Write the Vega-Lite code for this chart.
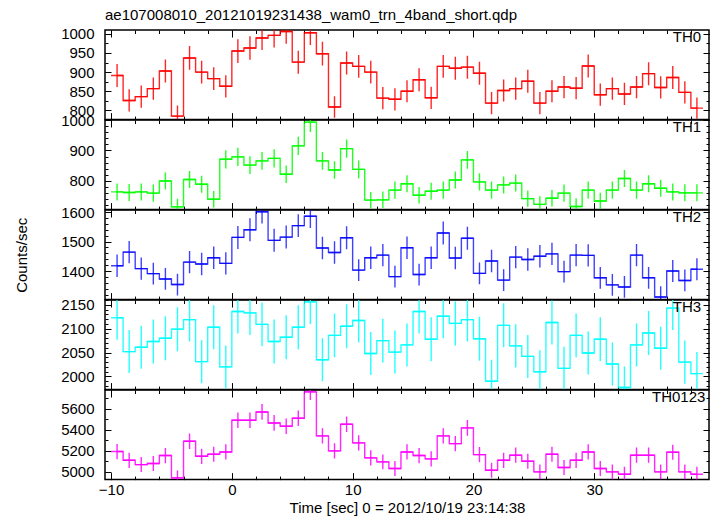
{
"$schema": "https://vega.github.io/schema/vega-lite/v6.json",
"padding": {"left": 13, "top": 7, "right": 0, "bottom": 0},
"spacing": 0,
"bounds": "flush",
"config": {
 "font": "Liberation Sans",
 "view": {"stroke": "black", "strokeWidth": 1.5},
 "axis": {"domain": false, "grid": false, "tickColor": "black", "labelColor": "black", "labelFont": "Liberation Sans", "labelFontSize": 15, "titleFont": "Liberation Sans", "titleFontSize": 15, "titleFontWeight": "normal", "titleColor": "black", "labelOverlap": false, "labelFlush": false, "tickWidth": 1, "format": "d"}
},
"datasets": {"lc": [
{"t":-9.5,"th0":891,"e0":30,"th1":764,"e1":28,"th2":1418,"e2":38,"th3":2123,"e3":46,"all":5193,"ea":72},
{"t":-8.5,"th0":826,"e0":29,"th1":762,"e1":28,"th2":1464,"e2":38,"th3":2052,"e3":45,"all":5110,"ea":72},
{"t":-7.5,"th0":836,"e0":29,"th1":764,"e1":28,"th2":1408,"e2":38,"th3":2061,"e3":45,"all":5069,"ea":71},
{"t":-6.5,"th0":857,"e0":29,"th1":760,"e1":28,"th2":1391,"e2":37,"th3":2073,"e3":46,"all":5079,"ea":71},
{"t":-5.5,"th0":903,"e0":30,"th1":800,"e1":28,"th2":1373,"e2":37,"th3":2080,"e3":46,"all":5155,"ea":72},
{"t":-4.5,"th0":785,"e0":28,"th1":715,"e1":27,"th2":1354,"e2":37,"th3":2099,"e3":46,"all":4943,"ea":70},
{"t":-3.5,"th0":937,"e0":31,"th1":805,"e1":28,"th2":1430,"e2":38,"th3":2119,"e3":46,"all":5291,"ea":73},
{"t":-2.5,"th0":900,"e0":30,"th1":789,"e1":28,"th2":1424,"e2":38,"th3":2031,"e3":45,"all":5148,"ea":72},
{"t":-1.5,"th0":883,"e0":30,"th1":740,"e1":27,"th2":1445,"e2":38,"th3":2103,"e3":46,"all":5167,"ea":72},
{"t":-0.5,"th0":863,"e0":29,"th1":871,"e1":30,"th2":1426,"e2":38,"th3":2020,"e3":45,"all":5189,"ea":72},
{"t":0.5,"th0":955,"e0":31,"th1":879,"e1":30,"th2":1514,"e2":39,"th3":2136,"e3":46,"all":5489,"ea":74},
{"t":1.5,"th0":963,"e0":31,"th1":852,"e1":29,"th2":1540,"e2":39,"th3":2133,"e3":46,"all":5489,"ea":74},
{"t":2.5,"th0":989,"e0":31,"th1":866,"e1":29,"th2":1601,"e2":40,"th3":2109,"e3":46,"all":5568,"ea":75},
{"t":3.5,"th0":996,"e0":32,"th1":874,"e1":30,"th2":1504,"e2":39,"th3":2073,"e3":46,"all":5464,"ea":74},
{"t":4.5,"th0":1006,"e0":32,"th1":822,"e1":29,"th2":1515,"e2":39,"th3":2082,"e3":46,"all":5433,"ea":74},
{"t":5.5,"th0":926,"e0":30,"th1":915,"e1":30,"th2":1554,"e2":39,"th3":2103,"e3":46,"all":5508,"ea":74},
{"t":6.5,"th0":1003,"e0":32,"th1":993,"e1":32,"th2":1586,"e2":40,"th3":2156,"e3":46,"all":5758,"ea":76},
{"t":7.5,"th0":948,"e0":31,"th1":866,"e1":29,"th2":1478,"e2":38,"th3":2035,"e3":45,"all":5341,"ea":73},
{"t":8.5,"th0":809,"e0":28,"th1":836,"e1":29,"th2":1463,"e2":38,"th3":2086,"e3":46,"all":5199,"ea":72},
{"t":9.5,"th0":924,"e0":30,"th1":906,"e1":30,"th2":1513,"e2":39,"th3":2105,"e3":46,"all":5452,"ea":74},
{"t":10.5,"th0":915,"e0":30,"th1":838,"e1":29,"th2":1403,"e2":37,"th3":2117,"e3":46,"all":5275,"ea":73},
{"t":11.5,"th0":900,"e0":30,"th1":737,"e1":27,"th2":1445,"e2":38,"th3":2048,"e3":45,"all":5133,"ea":72},
{"t":12.5,"th0":832,"e0":29,"th1":738,"e1":27,"th2":1454,"e2":38,"th3":2075,"e3":46,"all":5095,"ea":71},
{"t":13.5,"th0":829,"e0":29,"th1":770,"e1":28,"th2":1381,"e2":37,"th3":2051,"e3":45,"all":5032,"ea":71},
{"t":14.5,"th0":850,"e0":29,"th1":791,"e1":28,"th2":1479,"e2":38,"th3":2066,"e3":45,"all":5189,"ea":72},
{"t":15.5,"th0":880,"e0":30,"th1":753,"e1":27,"th2":1388,"e2":37,"th3":2136,"e3":46,"all":5155,"ea":72},
{"t":16.5,"th0":833,"e0":29,"th1":766,"e1":28,"th2":1445,"e2":38,"th3":2078,"e3":46,"all":5123,"ea":72},
{"t":17.5,"th0":915,"e0":30,"th1":770,"e1":28,"th2":1529,"e2":39,"th3":2126,"e3":46,"all":5341,"ea":73},
{"t":18.5,"th0":910,"e0":30,"th1":803,"e1":28,"th2":1444,"e2":38,"th3":2111,"e3":46,"all":5268,"ea":73},
{"t":19.5,"th0":913,"e0":30,"th1":869,"e1":29,"th2":1511,"e2":39,"th3":2119,"e3":46,"all":5417,"ea":74},
{"t":20.5,"th0":897,"e0":30,"th1":797,"e1":28,"th2":1392,"e2":37,"th3":2079,"e3":46,"all":5164,"ea":72},
{"t":21.5,"th0":819,"e0":29,"th1":770,"e1":28,"th2":1434,"e2":38,"th3":1990,"e3":45,"all":5016,"ea":71},
{"t":22.5,"th0":852,"e0":29,"th1":787,"e1":28,"th2":1369,"e2":37,"th3":2107,"e3":46,"all":5110,"ea":72},
{"t":23.5,"th0":857,"e0":29,"th1":793,"e1":28,"th2":1447,"e2":38,"th3":2064,"e3":45,"all":5158,"ea":72},
{"t":24.5,"th0":876,"e0":30,"th1":742,"e1":27,"th2":1439,"e2":38,"th3":2042,"e3":45,"all":5101,"ea":71},
{"t":25.5,"th0":819,"e0":29,"th1":723,"e1":27,"th2":1450,"e2":38,"th3":2010,"e3":45,"all":5000,"ea":71},
{"t":26.5,"th0":850,"e0":29,"th1":743,"e1":27,"th2":1458,"e2":38,"th3":2113,"e3":46,"all":5167,"ea":72},
{"t":27.5,"th0":861,"e0":29,"th1":760,"e1":28,"th2":1398,"e2":37,"th3":2017,"e3":45,"all":5041,"ea":71},
{"t":28.5,"th0":858,"e0":29,"th1":716,"e1":27,"th2":1454,"e2":38,"th3":2086,"e3":46,"all":5110,"ea":72},
{"t":29.5,"th0":916,"e0":30,"th1":770,"e1":28,"th2":1453,"e2":38,"th3":2049,"e3":45,"all":5189,"ea":72},
{"t":30.5,"th0":841,"e0":29,"th1":734,"e1":27,"th2":1377,"e2":37,"th3":2078,"e3":46,"all":5032,"ea":71},
{"t":31.5,"th0":857,"e0":29,"th1":770,"e1":28,"th2":1353,"e2":37,"th3":2026,"e3":45,"all":5000,"ea":71},
{"t":32.5,"th0":843,"e0":29,"th1":808,"e1":28,"th2":1346,"e2":37,"th3":1977,"e3":44,"all":4978,"ea":71},
{"t":33.5,"th0":861,"e0":29,"th1":770,"e1":28,"th2":1454,"e2":38,"th3":2066,"e3":45,"all":5158,"ea":72},
{"t":34.5,"th0":896,"e0":30,"th1":791,"e1":28,"th2":1377,"e2":37,"th3":2091,"e3":46,"all":5158,"ea":72},
{"t":35.5,"th0":860,"e0":29,"th1":776,"e1":28,"th2":1312,"e2":36,"th3":2059,"e3":45,"all":5000,"ea":71},
{"t":36.5,"th0":886,"e0":30,"th1":764,"e1":28,"th2":1400,"e2":37,"th3":2143,"e3":46,"all":5186,"ea":72},
{"t":37.5,"th0":847,"e0":29,"th1":761,"e1":28,"th2":1368,"e2":37,"th3":2030,"e3":45,"all":5000,"ea":71},
{"t":38.5,"th0":806,"e0":28,"th1":761,"e1":28,"th2":1406,"e2":37,"th3":2006,"e3":45,"all":4978,"ea":71}
]},
"data": {"name": "lc"},
"vconcat": [
{
 "title": {"text": "ae107008010_20121019231438_wam0_trn_4band_short.qdp", "anchor": "start", "frame": "group", "fontSize": 15, "fontWeight": "normal", "font": "Liberation Sans", "color": "black", "offset": 4},
 "width": 604, "height": 89.6,
 "resolve": {"axis": {"x": "independent", "y": "independent"}},
 "layer": [
  {"mark": {"type": "line", "interpolate": "step", "color": "#ff0000", "strokeWidth": 1.4, "opacity": 0.85, "clip": true},
   "encoding": {
    "x": {"field": "t", "type": "quantitative", "scale": {"domain": [-10.5, 39.5], "nice": false, "zero": false}, "axis": {"orient": "bottom", "values": [-10,0,10,20,30], "tickSize": -7, "labels": false, "title": null}},
    "y": {"field": "th0", "type": "quantitative", "scale": {"domain": [776, 1010], "nice": false, "zero": false}, "axis": {"orient": "left", "values": [800,850,900,950,1000], "tickSize": -6, "labelPadding": 17, "title": null}}}},
  {"mark": {"type": "tick", "orient": "horizontal", "size": 12.08, "thickness": 1.4, "color": "#ff0000", "opacity": 0.85, "clip": true},
   "encoding": {
    "x": {"field": "t", "type": "quantitative", "axis": {"orient": "top", "values": [-10,0,10,20,30], "tickSize": -7, "labels": false, "title": null}},
    "y": {"field": "th0", "type": "quantitative", "axis": {"orient": "right", "values": [800,850,900,950,1000], "tickSize": -6, "labels": false, "title": null}}}},
  {"mark": {"type": "errorbar", "color": "#ff0000", "thickness": 1.4, "opacity": 0.85, "clip": true},
   "encoding": {
    "x": {"field": "t", "type": "quantitative", "axis": {"orient": "bottom", "values": [-10,-8,-6,-4,-2,0,2,4,6,8,10,12,14,16,18,20,22,24,26,28,30,32,34,36,38], "tickSize": -3.5, "labels": false, "title": null}},
    "y": {"field": "th0", "type": "quantitative", "axis": {"orient": "left", "values": [800,825,850,875,900,925,950,975,1000], "tickSize": -3, "labels": false, "title": null}},
    "yError": {"field": "e0"}}},
  {"mark": {"type": "line", "opacity": 0},
   "encoding": {
    "x": {"field": "t", "type": "quantitative", "axis": {"orient": "top", "values": [-10,-8,-6,-4,-2,0,2,4,6,8,10,12,14,16,18,20,22,24,26,28,30,32,34,36,38], "tickSize": -3.5, "labels": false, "title": null}},
    "y": {"field": "th0", "type": "quantitative", "axis": {"orient": "right", "values": [800,825,850,875,900,925,950,975,1000], "tickSize": -3, "labels": false, "title": null}}}},
  {"data": {"values": [{"lab": "TH0"}]},
   "mark": {"type": "text", "align": "right", "baseline": "top", "fontSize": 15, "font": "Liberation Sans", "color": "black"},
   "encoding": {"x": {"datum": 38.85, "type": "quantitative", "axis": null}, "y": {"datum": 1010, "type": "quantitative", "axis": null}, "text": {"field": "lab"}}}
 ]
},
{
 "width": 604, "height": 89.6,
 "resolve": {"axis": {"x": "independent", "y": "independent"}},
 "layer": [
  {"mark": {"type": "line", "interpolate": "step", "color": "#00ff00", "strokeWidth": 1.4, "opacity": 0.85, "clip": true},
   "encoding": {
    "x": {"field": "t", "type": "quantitative", "scale": {"domain": [-10.5, 39.5], "nice": false, "zero": false}, "axis": {"orient": "bottom", "values": [-10,0,10,20,30], "tickSize": -7, "labels": false, "title": null}},
    "y": {"field": "th1", "type": "quantitative", "scale": {"domain": [706, 1000], "nice": false, "zero": false}, "axis": {"orient": "left", "values": [800,900,1000], "tickSize": -6, "labelPadding": 17, "title": null}}}},
  {"mark": {"type": "tick", "orient": "horizontal", "size": 12.08, "thickness": 1.4, "color": "#00ff00", "opacity": 0.85, "clip": true},
   "encoding": {
    "x": {"field": "t", "type": "quantitative", "axis": {"orient": "top", "values": [-10,0,10,20,30], "tickSize": -7, "labels": false, "title": null}},
    "y": {"field": "th1", "type": "quantitative", "axis": {"orient": "right", "values": [800,900,1000], "tickSize": -6, "labels": false, "title": null}}}},
  {"mark": {"type": "errorbar", "color": "#00ff00", "thickness": 1.4, "opacity": 0.85, "clip": true},
   "encoding": {
    "x": {"field": "t", "type": "quantitative", "axis": {"orient": "bottom", "values": [-10,-8,-6,-4,-2,0,2,4,6,8,10,12,14,16,18,20,22,24,26,28,30,32,34,36,38], "tickSize": -3.5, "labels": false, "title": null}},
    "y": {"field": "th1", "type": "quantitative", "axis": {"orient": "left", "values": [720,740,760,780,800,820,840,860,880,900,920,940,960,980,1000], "tickSize": -3, "labels": false, "title": null}},
    "yError": {"field": "e1"}}},
  {"mark": {"type": "line", "opacity": 0},
   "encoding": {
    "x": {"field": "t", "type": "quantitative", "axis": {"orient": "top", "values": [-10,-8,-6,-4,-2,0,2,4,6,8,10,12,14,16,18,20,22,24,26,28,30,32,34,36,38], "tickSize": -3.5, "labels": false, "title": null}},
    "y": {"field": "th1", "type": "quantitative", "axis": {"orient": "right", "values": [720,740,760,780,800,820,840,860,880,900,920,940,960,980,1000], "tickSize": -3, "labels": false, "title": null}}}},
  {"data": {"values": [{"lab": "TH1"}]},
   "mark": {"type": "text", "align": "right", "baseline": "top", "fontSize": 15, "font": "Liberation Sans", "color": "black"},
   "encoding": {"x": {"datum": 38.85, "type": "quantitative", "axis": null}, "y": {"datum": 1000, "type": "quantitative", "axis": null}, "text": {"field": "lab"}}}
 ]
},
{
 "width": 604, "height": 89.6,
 "resolve": {"axis": {"x": "independent", "y": "independent"}},
 "layer": [
  {"mark": {"type": "line", "interpolate": "step", "color": "#0000ff", "strokeWidth": 1.4, "opacity": 0.75, "clip": true},
   "encoding": {
    "x": {"field": "t", "type": "quantitative", "scale": {"domain": [-10.5, 39.5], "nice": false, "zero": false}, "axis": {"orient": "bottom", "values": [-10,0,10,20,30], "tickSize": -7, "labels": false, "title": null}},
    "y": {"field": "th2", "type": "quantitative", "scale": {"domain": [1303, 1607], "nice": false, "zero": false}, "axis": {"orient": "left", "values": [1400,1500,1600], "tickSize": -6, "labelPadding": 17, "title": "Counts/sec", "titlePadding": 31}}}},
  {"mark": {"type": "tick", "orient": "horizontal", "size": 12.08, "thickness": 1.4, "color": "#0000ff", "opacity": 0.75, "clip": true},
   "encoding": {
    "x": {"field": "t", "type": "quantitative", "axis": {"orient": "top", "values": [-10,0,10,20,30], "tickSize": -7, "labels": false, "title": null}},
    "y": {"field": "th2", "type": "quantitative", "axis": {"orient": "right", "values": [1400,1500,1600], "tickSize": -6, "labels": false, "title": null}}}},
  {"mark": {"type": "errorbar", "color": "#0000ff", "thickness": 1.4, "opacity": 0.75, "clip": true},
   "encoding": {
    "x": {"field": "t", "type": "quantitative", "axis": {"orient": "bottom", "values": [-10,-8,-6,-4,-2,0,2,4,6,8,10,12,14,16,18,20,22,24,26,28,30,32,34,36,38], "tickSize": -3.5, "labels": false, "title": null}},
    "y": {"field": "th2", "type": "quantitative", "axis": {"orient": "left", "values": [1320,1340,1360,1380,1400,1420,1440,1460,1480,1500,1520,1540,1560,1580,1600], "tickSize": -3, "labels": false, "title": null}},
    "yError": {"field": "e2"}}},
  {"mark": {"type": "line", "opacity": 0},
   "encoding": {
    "x": {"field": "t", "type": "quantitative", "axis": {"orient": "top", "values": [-10,-8,-6,-4,-2,0,2,4,6,8,10,12,14,16,18,20,22,24,26,28,30,32,34,36,38], "tickSize": -3.5, "labels": false, "title": null}},
    "y": {"field": "th2", "type": "quantitative", "axis": {"orient": "right", "values": [1320,1340,1360,1380,1400,1420,1440,1460,1480,1500,1520,1540,1560,1580,1600], "tickSize": -3, "labels": false, "title": null}}}},
  {"data": {"values": [{"lab": "TH2"}]},
   "mark": {"type": "text", "align": "right", "baseline": "top", "fontSize": 15, "font": "Liberation Sans", "color": "black"},
   "encoding": {"x": {"datum": 38.85, "type": "quantitative", "axis": null}, "y": {"datum": 1607, "type": "quantitative", "axis": null}, "text": {"field": "lab"}}}
 ]
},
{
 "width": 604, "height": 89.6,
 "resolve": {"axis": {"x": "independent", "y": "independent"}},
 "layer": [
  {"mark": {"type": "line", "interpolate": "step", "color": "#00ffff", "strokeWidth": 1.4, "opacity": 0.85, "clip": true},
   "encoding": {
    "x": {"field": "t", "type": "quantitative", "scale": {"domain": [-10.5, 39.5], "nice": false, "zero": false}, "axis": {"orient": "bottom", "values": [-10,0,10,20,30], "tickSize": -7, "labels": false, "title": null}},
    "y": {"field": "th3", "type": "quantitative", "scale": {"domain": [1972.5, 2160], "nice": false, "zero": false}, "axis": {"orient": "left", "values": [2000,2050,2100,2150], "tickSize": -6, "labelPadding": 17, "title": null}}}},
  {"mark": {"type": "tick", "orient": "horizontal", "size": 12.08, "thickness": 1.4, "color": "#00ffff", "opacity": 0.85, "clip": true},
   "encoding": {
    "x": {"field": "t", "type": "quantitative", "axis": {"orient": "top", "values": [-10,0,10,20,30], "tickSize": -7, "labels": false, "title": null}},
    "y": {"field": "th3", "type": "quantitative", "axis": {"orient": "right", "values": [2000,2050,2100,2150], "tickSize": -6, "labels": false, "title": null}}}},
  {"mark": {"type": "errorbar", "color": "#00ffff", "thickness": 1.4, "opacity": 0.85, "clip": true},
   "encoding": {
    "x": {"field": "t", "type": "quantitative", "axis": {"orient": "bottom", "values": [-10,-8,-6,-4,-2,0,2,4,6,8,10,12,14,16,18,20,22,24,26,28,30,32,34,36,38], "tickSize": -3.5, "labels": false, "title": null}},
    "y": {"field": "th3", "type": "quantitative", "axis": {"orient": "left", "values": [1980,1990,2000,2010,2020,2030,2040,2050,2060,2070,2080,2090,2100,2110,2120,2130,2140,2150,2160], "tickSize": -3, "labels": false, "title": null}},
    "yError": {"field": "e3"}}},
  {"mark": {"type": "line", "opacity": 0},
   "encoding": {
    "x": {"field": "t", "type": "quantitative", "axis": {"orient": "top", "values": [-10,-8,-6,-4,-2,0,2,4,6,8,10,12,14,16,18,20,22,24,26,28,30,32,34,36,38], "tickSize": -3.5, "labels": false, "title": null}},
    "y": {"field": "th3", "type": "quantitative", "axis": {"orient": "right", "values": [1980,1990,2000,2010,2020,2030,2040,2050,2060,2070,2080,2090,2100,2110,2120,2130,2140,2150,2160], "tickSize": -3, "labels": false, "title": null}}}},
  {"data": {"values": [{"lab": "TH3"}]},
   "mark": {"type": "text", "align": "right", "baseline": "top", "fontSize": 15, "font": "Liberation Sans", "color": "black"},
   "encoding": {"x": {"datum": 38.85, "type": "quantitative", "axis": null}, "y": {"datum": 2160, "type": "quantitative", "axis": null}, "text": {"field": "lab"}}}
 ]
},
{
 "width": 604, "height": 89.6,
 "resolve": {"axis": {"x": "independent", "y": "independent"}},
 "layer": [
  {"mark": {"type": "line", "interpolate": "step", "color": "#ff00ff", "strokeWidth": 1.4, "opacity": 0.85, "clip": true},
   "encoding": {
    "x": {"field": "t", "type": "quantitative", "scale": {"domain": [-10.5, 39.5], "nice": false, "zero": false}, "axis": {"orient": "bottom", "values": [-10,0,10,20,30], "tickSize": -7, "labelPadding": 10, "title": "Time [sec] 0 = 2012/10/19 23:14:38", "titlePadding": 3}},
    "y": {"field": "all", "type": "quantitative", "scale": {"domain": [4927, 5776], "nice": false, "zero": false}, "axis": {"orient": "left", "values": [5000,5200,5400,5600], "tickSize": -6, "labelPadding": 17, "title": null}}}},
  {"mark": {"type": "tick", "orient": "horizontal", "size": 12.08, "thickness": 1.4, "color": "#ff00ff", "opacity": 0.85, "clip": true},
   "encoding": {
    "x": {"field": "t", "type": "quantitative", "axis": {"orient": "top", "values": [-10,0,10,20,30], "tickSize": -7, "labels": false, "title": null}},
    "y": {"field": "all", "type": "quantitative", "axis": {"orient": "right", "values": [5000,5200,5400,5600], "tickSize": -6, "labels": false, "title": null}}}},
  {"mark": {"type": "errorbar", "color": "#ff00ff", "thickness": 1.4, "opacity": 0.85, "clip": true},
   "encoding": {
    "x": {"field": "t", "type": "quantitative", "axis": {"orient": "bottom", "values": [-10,-8,-6,-4,-2,0,2,4,6,8,10,12,14,16,18,20,22,24,26,28,30,32,34,36,38], "tickSize": -3.5, "labels": false, "title": null}},
    "y": {"field": "all", "type": "quantitative", "axis": {"orient": "left", "values": [5000,5100,5200,5300,5400,5500,5600,5700], "tickSize": -3, "labels": false, "title": null}},
    "yError": {"field": "ea"}}},
  {"mark": {"type": "line", "opacity": 0},
   "encoding": {
    "x": {"field": "t", "type": "quantitative", "axis": {"orient": "top", "values": [-10,-8,-6,-4,-2,0,2,4,6,8,10,12,14,16,18,20,22,24,26,28,30,32,34,36,38], "tickSize": -3.5, "labels": false, "title": null}},
    "y": {"field": "all", "type": "quantitative", "axis": {"orient": "right", "values": [5000,5100,5200,5300,5400,5500,5600,5700], "tickSize": -3, "labels": false, "title": null}}}},
  {"data": {"values": [{"lab": "TH0123"}]},
   "mark": {"type": "text", "align": "right", "baseline": "top", "fontSize": 15, "font": "Liberation Sans", "color": "black"},
   "encoding": {"x": {"datum": 39.2, "type": "quantitative", "axis": null}, "y": {"datum": 5776, "type": "quantitative", "axis": null}, "text": {"field": "lab"}}}
 ]
}
]
}
